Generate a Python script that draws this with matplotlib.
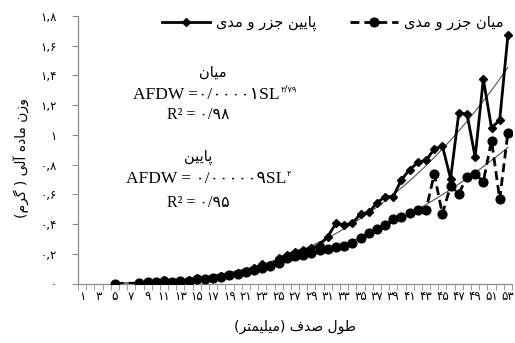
import numpy as np
import matplotlib
matplotlib.use('Agg')
import matplotlib.pyplot as plt
from matplotlib.lines import Line2D
from matplotlib import font_manager
from matplotlib.ft2font import FT2Font

# ---------------- data ----------------
categories = list(range(1, 54))
mid_x = [5] + list(range(8, 54))
mid_y = [0.0,
         0.003, 0.008, 0.010, 0.015, 0.012, 0.018, 0.020, 0.030, 0.030, 0.036,
         0.045, 0.055, 0.066, 0.076, 0.090, 0.105, 0.115, 0.140, 0.170, 0.185,
         0.192, 0.203, 0.226, 0.230, 0.244, 0.253, 0.275, 0.304, 0.338, 0.370,
         0.394, 0.432, 0.450, 0.473, 0.497, 0.492, 0.737, 0.468, 0.657, 0.603,
         0.719, 0.737, 0.686, 0.962, 0.567, 1.016]
low_x = list(range(8, 54))
low_y = [0.003, 0.012, 0.008, 0.024, 0.010, 0.017, 0.022, 0.035, 0.030, 0.040,
         0.050, 0.060, 0.072, 0.085, 0.105, 0.128, 0.122, 0.170, 0.192, 0.214,
         0.226, 0.237, 0.259, 0.315, 0.405, 0.394, 0.405, 0.468, 0.478, 0.542,
         0.585, 0.585, 0.699, 0.766, 0.815, 0.828, 0.904, 0.926, 0.705, 1.146,
         1.141, 0.852, 1.375, 1.047, 1.100, 1.670]
yticks = [0, 0.2, 0.4, 0.6, 0.8, 1.0, 1.2, 1.4, 1.6, 1.8]
ytick_labels = ['۰', '۰,۲', '۰,۴', '۰,۶', '۰,۸', '۱', '۱,۲', '۱,۴', '۱,۶', '۱,۸']
legend_low = 'پایین جزر و مدی'
legend_mid = 'میان جزر و مدی'
ylabel_txt = 'وزن ماده آلی ( گرم)'
xlabel_txt = 'طول صدف (میلیمتر)'
mid_title = 'میان'
low_title = 'پایین'
mid_eq = 'AFDW =۰/۰۰۰۰۱SL'
mid_eq_sup = '۲/۷۹'
mid_r2 = 'R² = ۰/۹۸'
low_eq = 'AFDW = ۰/۰۰۰۰۰۹SL'
low_eq_sup = '۲'
low_r2 = 'R² = ۰/۹۵'

# ---------------- Persian shaping helper ----------------
FORMS = {
    'ا': (0xFE8D, 0xFE8E, None, None),
    'آ': (0xFE81, 0xFE82, None, None),
    'ب': (0xFE8F, 0xFE90, 0xFE91, 0xFE92),
    'پ': (0xFB56, 0xFB57, 0xFB58, 0xFB59),
    'ت': (0xFE95, 0xFE96, 0xFE97, 0xFE98),
    'ج': (0xFE9D, 0xFE9E, 0xFE9F, 0xFEA0),
    'د': (0xFEA9, 0xFEAA, None, None),
    'ر': (0xFEAD, 0xFEAE, None, None),
    'ز': (0xFEAF, 0xFEB0, None, None),
    'ص': (0xFEB9, 0xFEBA, 0xFEBB, 0xFEBC),
    'ط': (0xFEC1, 0xFEC2, 0xFEC3, 0xFEC4),
    'ف': (0xFED1, 0xFED2, 0xFED3, 0xFED4),
    'ل': (0xFEDD, 0xFEDE, 0xFEDF, 0xFEE0),
    'م': (0xFEE1, 0xFEE2, 0xFEE3, 0xFEE4),
    'ن': (0xFEE5, 0xFEE6, 0xFEE7, 0xFEE8),
    'ه': (0xFEE9, 0xFEEA, 0xFEEB, 0xFEEC),
    'و': (0xFEED, 0xFEEE, None, None),
    'ی': (0xFBFC, 0xFBFD, 0xFBFE, 0xFBFF),
    'گ': (0xFB92, 0xFB93, 0xFB94, 0xFB95),
}
_font = FT2Font(font_manager.findfont('DejaVu Sans'))


def _glyph(cp, base):
    return chr(cp) if _font.get_char_index(cp) else base


def fa(s):
    out = []
    n = len(s)
    for i, ch in enumerate(s):
        if ch not in FORMS:
            out.append(ch)
            continue
        f = FORMS[ch]
        prev = s[i - 1] if i > 0 else None
        nxt = s[i + 1] if i < n - 1 else None
        jp = prev in FORMS and FORMS[prev][2] is not None
        jn = f[2] is not None and nxt in FORMS
        if jp and jn:
            c = f[3]
        elif jp:
            c = f[1]
        elif jn:
            c = f[2]
        else:
            c = f[0]
        out.append(_glyph(c, ch))
    vis = ''.join(out)[::-1]
    mirror = {'(': ')', ')': '('}
    return ''.join(mirror.get(c, c) for c in vis)


PD = '۰۱۲۳۴۵۶۷۸۹'


def pdig(n):
    return ''.join(PD[int(d)] for d in str(n))


def power_fit(x, y):
    x = np.asarray(x, float)
    y = np.asarray(y, float)
    m = y > 0
    b, loga = np.polyfit(np.log(x[m]), np.log(y[m]), 1, w=np.sqrt(y[m]))
    return np.exp(loga), b


# ---------------- figure ----------------
W, H = 515, 343
fig = plt.figure(figsize=(W / 100, H / 100), dpi=100)
ax = fig.add_axes([78 / W, (H - 283.5) / H, (512 - 78) / W, (283.5 - 16) / H])

FA = ['DejaVu Sans']
SERIF = ['Liberation Serif', 'DejaVu Sans']
grey = '#8c8c8c'

# trendlines
for xs_, ys_ in ((low_x, low_y), (mid_x, mid_y)):
    a, b = power_fit(xs_, ys_)
    xx = np.linspace(5, max(xs_), 300)
    ax.plot(xx, a * xx ** b, color='#555555', lw=0.8, zorder=2)

ax.plot(low_x, low_y, color='black', lw=2.0, marker='D', ms=4.2, zorder=4)
ax.plot(mid_x, mid_y, color='black', lw=2.0, ls=(0, (3.2, 1.8)), marker='o',
        ms=6.3, zorder=3)

ax.set_xlim(0.5, 53.5)
ax.set_ylim(0, 1.8)
for s in ('top', 'right'):
    ax.spines[s].set_visible(False)
for s in ('left', 'bottom'):
    ax.spines[s].set_color(grey)
    ax.spines[s].set_linewidth(0.9)

ax.set_xticks(categories[::2])
ax.set_xticklabels([pdig(c) for c in categories[::2]], family=FA, fontsize=8.5)
ax.set_xticks(np.arange(0.5, 54, 1.0), minor=True)
ax.tick_params(axis='x', which='major', length=0, pad=5)
ax.tick_params(axis='x', which='minor', length=4, color=grey, direction='out')

ax.set_yticks(yticks)
ax.set_yticklabels(ytick_labels, family=FA, fontsize=8.5)
ax.tick_params(axis='y', length=4, color=grey, direction='out', pad=11)

# axis labels
fig.text(295 / W, 1 - 327 / H, fa(xlabel_txt), family=FA, fontsize=10,
         ha='center', va='center')
fig.text(22 / W, 1 - 158 / H, fa(ylabel_txt), family=FA, fontsize=10,
         ha='center', va='center', rotation=90)

# legend
h_low = Line2D([], [], color='black', lw=2.0, marker='D', ms=4.2)
h_mid = Line2D([], [], color='black', lw=2.0, ls=(0, (3.2, 1.8)), marker='o', ms=6.3)
fig.legend([h_low, h_mid], [fa(legend_low), fa(legend_mid)], ncol=2,
           loc='center', bbox_to_anchor=(333 / W, 1 - 23 / H), frameon=False,
           prop={'family': FA, 'size': 10.5}, handlelength=3.3,
           columnspacing=2.3, handletextpad=0.4)

# equations
fig.text(213 / W, 1 - 72 / H, fa(mid_title), family=FA, fontsize=10.5,
         ha='center', va='center')
t1 = fig.text(133 / W, 1 - 95 / H, mid_eq, family=SERIF, fontsize=12.5,
              ha='left', va='center')
ax.annotate(mid_eq_sup, xy=(1.0, 0.85), xycoords=t1, xytext=(0.5, 0),
            textcoords='offset points', family=FA, fontsize=6,
            ha='left', va='center')
fig.text(198 / W, 1 - 115 / H, mid_r2, family=SERIF, fontsize=11.5,
         ha='center', va='center')

fig.text(198 / W, 1 - 157 / H, fa(low_title), family=FA, fontsize=10.5,
         ha='center', va='center')
t2 = fig.text(126 / W, 1 - 179 / H, low_eq, family=SERIF, fontsize=12.5,
              ha='left', va='center')
ax.annotate(low_eq_sup, xy=(1.0, 0.85), xycoords=t2, xytext=(0.5, 0),
            textcoords='offset points', family=FA, fontsize=6,
            ha='left', va='center')
fig.text(198 / W, 1 - 203 / H, low_r2, family=SERIF, fontsize=11.5,
         ha='center', va='center')

fig.savefig('out.png', dpi=100)
